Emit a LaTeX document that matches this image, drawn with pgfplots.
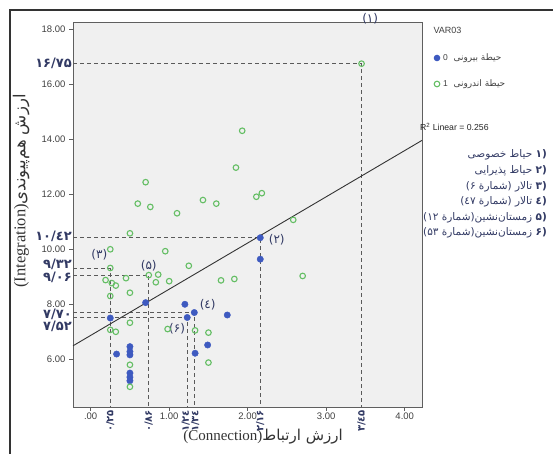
\documentclass[border=0pt]{standalone}
\usepackage{fontspec}
\usepackage{pgfplots}
\pgfplotsset{compat=1.18}
\TeXXeTstate=1
\setmainfont{Liberation Serif}
\newfontfamily\arialfont{Liberation Sans}
\newfontfamily\fa[Script=Arabic]{DejaVu Sans}
\newfontfamily\dg{DejaVu Sans}

\definecolor{bggray}{RGB}{240,240,240}
\definecolor{framegray}{RGB}{95,95,95}
\definecolor{spssblue}{RGB}{62,90,192}
\definecolor{spssgreen}{RGB}{100,190,100}
\definecolor{navy}{RGB}{50,58,100}
\definecolor{dashgray}{RGB}{90,90,90}

\tikzset{
    lab/.style={font=\dg\fontsize{12}{12}\selectfont, text=navy},
    ylab/.style={font=\dg\bfseries\fontsize{13}{13}\selectfont, text=navy, anchor=east, inner sep=1pt},
    xlab/.style={font=\dg\bfseries\fontsize{10}{10}\selectfont, text=navy, anchor=east, rotate=90, inner sep=1pt},
    refl/.style={dashgray, line width=0.8pt, dash pattern=on 4pt off 3pt},
}

\begin{document}
\begin{tikzpicture}
\useasboundingbox (0,0) rectangle (553pt,454pt);
\draw[line width=1.2pt, draw=black!80] (10pt,0) -- (10pt,444pt) -- (553pt,444pt);
\begin{axis}[
    at={(73pt,47pt)}, anchor=south west,
    scale only axis, width=349pt, height=385pt,
    xmin=-0.225, xmax=4.22, ymin=4.265, ymax=18.265,
    clip=false,
    axis background/.style={fill=bggray},
    axis line style={draw=framegray, line width=0.9pt},
    xtick={0,1,2,3,4}, xticklabels={.00,1.00,2.00,3.00,4.00},
    ytick={6,8,10,12,14,16,18},
    yticklabels={6.00,8.00,10.00,12.00,14.00,16.00,18.00},
    tick pos=left, tick align=outside, major tick length=4pt,
    tick style={draw=framegray, line width=0.9pt},
    ticklabel style={font=\arialfont\fontsize{9.5}{10}\selectfont, text=black!75},
    xticklabel style={yshift=1.5pt},
]
% reference lines
\addplot[refl] coordinates {(-0.225,16.75) (3.45,16.75) (3.45,4.265)};
\addplot[refl] coordinates {(-0.225,10.42) (2.16,10.42) (2.16,4.265)};
\addplot[refl] coordinates {(-0.225,9.32) (0.25,9.32) (0.25,4.265)};
\addplot[refl] coordinates {(-0.225,9.06) (0.74,9.06) (0.74,4.265)};
\addplot[refl] coordinates {(-0.225,7.70) (1.32,7.70) (1.32,4.265)};
\addplot[refl] coordinates {(-0.225,7.52) (1.23,7.52) (1.23,4.265)};

% linear fit
\addplot[black!80, line width=0.9pt] coordinates {(-0.225,6.49) (4.22,13.96)};

% group 0
\addplot[only marks, mark=*, mark size=3.2pt, color=spssblue] coordinates {
 (0.25,7.50) (0.33,6.19) (0.50,6.46) (0.50,6.28) (0.50,6.16)
 (0.50,5.50) (0.50,5.35) (0.50,5.22) (0.70,8.06) (1.20,8.00)
 (1.23,7.52) (1.32,7.70) (1.74,7.61) (1.49,6.52) (1.33,6.22)
 (2.16,10.42) (2.16,9.64)
};
% group 1
\addplot[only marks, mark=o, mark size=2.8pt, color=spssgreen, mark options={line width=1.1pt}] coordinates {
 (3.45,16.75) (1.93,14.31) (1.85,12.97) (0.70,12.44) (0.60,11.66)
 (0.76,11.54) (1.10,11.31) (1.43,11.79) (1.60,11.66) (2.11,11.91)
 (2.18,12.04) (2.58,11.07) (0.50,10.58) (0.25,10.00) (0.95,9.93)
 (0.25,9.32) (1.25,9.40) (0.74,9.06) (0.86,9.08) (0.83,8.80)
 (1.00,8.84) (0.45,8.95) (0.19,8.88) (0.27,8.77) (0.32,8.68)
 (0.50,8.42) (0.25,8.30) (1.66,8.87) (1.83,8.92) (2.70,9.03)
 (0.50,7.33) (0.25,7.07) (0.32,7.00) (0.98,7.10) (1.33,7.05)
 (1.50,6.97) (1.50,5.88) (0.50,5.80) (0.50,5.00)
};

% point labels
\node[lab] at (axis cs:3.56,18.37) {(۱)};
\node[lab] at (axis cs:2.37,10.34) {(۲)};
\node[lab] at (axis cs:0.11,9.79) {(۳)};
\node[lab] at (axis cs:0.74,9.39) {(۵)};
\node[lab] at (axis cs:1.49,7.98) {(٤)};
\node[lab] at (axis cs:1.10,7.10) {(۶)};

% values on the y side
\node[ylab] at (axis cs:-0.225,16.75) {۱۶/۷۵};
\node[ylab] at (axis cs:-0.225,10.47) {۱۰/٤۲};
\node[ylab] at (axis cs:-0.225,9.45) {۹/۳۲};
\node[ylab] at (axis cs:-0.225,8.98) {۹/۰۶};
\node[ylab] at (axis cs:-0.225,7.62) {۷/۷۰};
\node[ylab] at (axis cs:-0.225,7.20) {۷/۵۲};

% values on the x side
\node[xlab] at (axis cs:0.25,4.2) {۰/۲۵};
\node[xlab] at (axis cs:0.74,4.2) {۰/۸۶};
\node[xlab] at (axis cs:1.21,4.2) {۱/۲٤};
\node[xlab] at (axis cs:1.33,4.2) {۱/۳٤};
\node[xlab] at (axis cs:2.16,4.2) {۲/۱۶};
\node[xlab] at (axis cs:3.45,4.2) {۳/٤۵};
\end{axis}

% axis titles
\node[rotate=90, font=\fontsize{16.5}{16.5}\selectfont, text=black!80] at (21pt,263pt)
  {(Integration){\fa\beginR ارزش هم‌پیوندی\endR}};
\node[font=\fontsize{15}{15}\selectfont, text=black!80] at (263pt,17pt)
  {(Connection){\fa\beginR ارزش ارتباط\endR}};

% legend
\node[anchor=west, font=\arialfont\fontsize{9}{9}\selectfont, text=black!75] at (430pt,424pt) {VAR03};
\fill[spssblue] (437pt,396pt) circle (3.3pt);
\node[anchor=west, font=\arialfont\fontsize{8.5}{9}\selectfont, text=black!75, inner sep=1pt] at (442pt,396pt) {0};
\node[anchor=west, font=\fa\fontsize{9}{9}\selectfont, text=black!75] at (450pt,396pt) {\beginR حیطة بیرونی\endR};
\draw[spssgreen, line width=1.1pt] (437pt,370pt) circle (2.8pt);
\node[anchor=west, font=\arialfont\fontsize{8.5}{9}\selectfont, text=black!75, inner sep=1pt] at (442pt,370pt) {1};
\node[anchor=west, font=\fa\fontsize{9}{9}\selectfont, text=black!75] at (450pt,370pt) {\beginR حیطة اندرونی\endR};

\node[anchor=west, font=\arialfont\fontsize{8.7}{9}\selectfont, text=black!85, inner sep=0pt] at (420pt,327pt)
  {R\textsuperscript{2} Linear = 0.256};

% list of marked spaces
\begin{scope}[every node/.style={anchor=east, inner sep=1pt, text=navy, font=\fa\fontsize{10.5}{11}\selectfont}]
\node at (548pt,299pt) {\beginR{\dg\bfseries ۱)} حیاط خصوصی\endR};
\node at (548pt,283pt) {\beginR{\dg\bfseries ۲)} حیاط پذیرایی\endR};
\node at (548pt,267pt) {\beginR{\dg\bfseries ۳)} تالار (شمارة ۶)\endR};
\node at (548pt,252pt) {\beginR{\dg\bfseries ٤)} تالار (شمارة ٤۷)\endR};
\node at (548pt,236pt) {\beginR{\dg\bfseries ۵)} زمستان‌نشین(شمارة ۱۲)\endR};
\node at (548pt,221pt) {\beginR{\dg\bfseries ۶)} زمستان‌نشین(شمارة ۵۳)\endR};
\end{scope}
\end{tikzpicture}
\end{document}
